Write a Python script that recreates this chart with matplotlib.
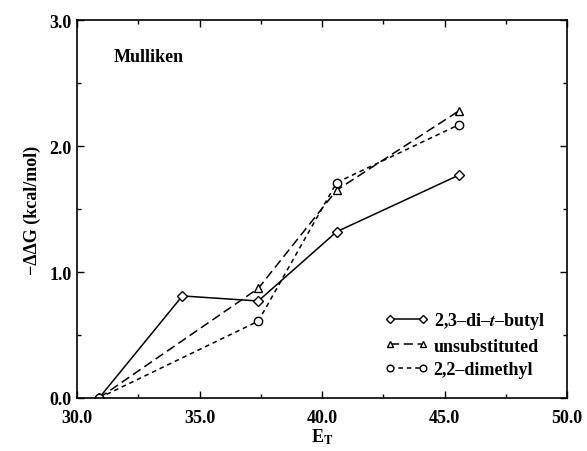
import matplotlib
matplotlib.use("Agg")
import matplotlib.pyplot as plt
from matplotlib.ticker import MultipleLocator, FormatStrFormatter

plt.rcParams['font.family'] = ['Liberation Serif', 'DejaVu Serif']
plt.rcParams['font.weight'] = 'bold'
plt.rcParams['mathtext.fontset'] = 'stix'

# data
et_butyl = [30.9, 34.3, 37.4, 40.6, 45.6]
dg_butyl = [0.0, 0.81, 0.77, 1.32, 1.77]
et_unsub = [30.9, 37.4, 40.6, 45.6]
dg_unsub = [0.0, 0.87, 1.65, 2.28]
et_dimethyl = [30.9, 37.4, 40.6, 45.6]
dg_dimethyl = [0.0, 0.61, 1.71, 2.17]

fig = plt.figure(figsize=(5.87, 4.52), dpi=100)
ax = fig.add_axes([77 / 587, 1 - 399 / 452, 490 / 587, 378 / 452])

ax.plot(et_butyl, dg_butyl, color='black', lw=1.1, ls='-', marker='D', ms=5,
        mfc='white', mec='black', mew=1.0, label='2,3\u2013di\u2013$\\mathbf{\\mathit{t}}$\u2013butyl')
ax.plot(et_unsub, dg_unsub, color='black', lw=1.1, ls=(0, (6, 3)), marker='^', ms=6,
        mfc='white', mec='black', mew=1.0, label='unsubstituted')
ax.plot(et_dimethyl, dg_dimethyl, color='black', lw=1.1, ls=(0, (3, 2.5)), marker='o', ms=6,
        mfc='white', mec='black', mew=1.0, label='2,2\u2013dimethyl')

ax.set_xlim(30, 50)
ax.set_ylim(0, 3)
ax.xaxis.set_major_locator(MultipleLocator(5))
ax.xaxis.set_minor_locator(MultipleLocator(2.5))
ax.yaxis.set_major_locator(MultipleLocator(1))
ax.yaxis.set_minor_locator(MultipleLocator(0.5))
ax.xaxis.set_major_formatter(FormatStrFormatter('%.1f'))
ax.yaxis.set_major_formatter(FormatStrFormatter('%.1f'))
ax.tick_params(which='both', direction='in', top=True, right=True, width=1.0)
ax.tick_params(which='major', length=5, labelsize=13)
ax.tick_params(axis='x', which='major', pad=8)
ax.tick_params(axis='y', which='major', pad=4)
ax.tick_params(which='minor', length=3)
for s in ax.spines.values():
    s.set_linewidth(1.2)

ax.set_xlabel('E$_\\mathbf{T}$', fontsize=13, fontweight='bold', labelpad=0)
ax.set_ylabel('\u2212\u0394\u0394G (kcal/mol)', fontsize=13, fontweight='bold', labelpad=6)
ax.text(31.5, 2.71, 'Mulliken', fontsize=13, fontweight='bold', va='center')

leg = ax.legend(loc='lower right', frameon=False, fontsize=13, handlelength=2.4,
                numpoints=2, markerscale=0.8,
                handletextpad=0.3, labelspacing=0.35, bbox_to_anchor=(0.988, 0.01))

fig.savefig('out.png', dpi=100)
